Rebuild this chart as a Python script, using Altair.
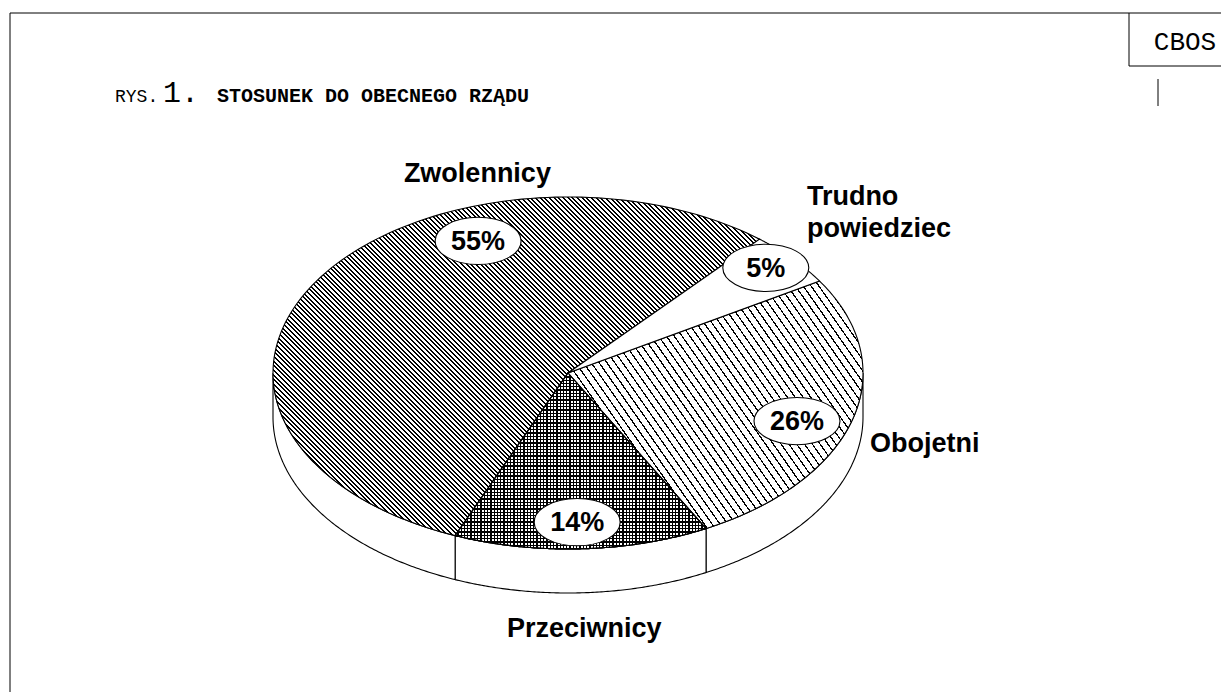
import math
import altair as alt
import pandas as pd

# ---------------- data ----------------
categories = ["Trudno powiedziec", "Obojetni", "Przeciwnicy", "Zwolennicy"]
values = [5, 26, 14, 55]
pct_labels = ["5%", "26%", "14%", "55%"]
outer_labels = ["Trudno\npowiedziec", "Obojetni", "Przeciwnicy", "Zwolennicy"]
title_prefix = "RYS."
title_number = "1."
title_text = "STOSUNEK DO OBECNEGO RZĄDU"
source_text = "CBOS"

# ---------------- style ----------------
W, H = 1213, 684
CX, CY, A, B = 560, 365, 295, 176      # pie centre / semi-axes (px, chart coords)
START_DEG = 40.5                        # where the first slice starts (clockwise from 12 o'clock)
DEPTH = 0.25                            # side depth, in y-scale units
K = 120                                 # arc resolution

PCT_POS = {"Trudno powiedziec": (48.3, 0.898), "Obojetni": (109.4, 0.823),
           "Przeciwnicy": (177.9, 0.848), "Zwolennicy": (337.9, 0.81)}
OUT_POS = {"Trudno powiedziec": (40.3, 1.252, "left"), "Obojetni": (113.7, 1.118, "left"),
           "Przeciwnicy": (177.9, 1.501, "center"), "Zwolennicy": (344.2, 1.128, "center")}

XS = alt.Scale(domain=[-1, 1], range=[CX - A, CX + A], nice=False, zero=False)
YS = alt.Scale(domain=[-1, 1], range=[CY + B, CY - B], nice=False, zero=False)

total = sum(values)


def slice_bbox(i):
    start = sum(values[:i])
    pts = [(CX, CY)]
    for k in range(K + 1):
        phi = math.radians(START_DEG + 360 * (start + values[i] * k / K) / total)
        pts.append((CX + A * math.sin(phi), CY - B * math.cos(phi)))
    xs = [p[0] for p in pts]
    ys = [p[1] for p in pts]
    return max(xs) - min(xs), max(ys) - min(ys)


def hatch(theta_deg, period, lw, w, h, ink="black", paper="white"):
    th = math.radians(theta_deg)
    n0, n1 = -math.sin(th), math.cos(th)
    corners = [(0, 0), (w, 0), (0, h), (w, h)]
    proj = [x * n0 + y * n1 for x, y in corners]
    pmin, pmax = min(proj), max(proj)
    L = pmax - pmin
    c = corners[proj.index(pmin)]
    u0, v0 = c[0] / w, c[1] / h
    g0, g1 = w * n0 / L, h * n1 / L
    g2 = g0 * g0 + g1 * g1
    d0, d1 = g0 / g2, g1 / g2
    q = period / L
    f = lw / period
    n = int(math.ceil(L / period))
    stops = []
    for i in range(n):
        a = min(1.0, i * q)
        b = min(1.0, (i + f) * q)
        e = min(1.0, (i + 1) * q)
        stops += [alt.GradientStop(offset=a, color=ink), alt.GradientStop(offset=b, color=ink),
                  alt.GradientStop(offset=b, color=paper), alt.GradientStop(offset=e, color=paper)]
    return alt.LinearGradient(gradient="linear", stops=stops,
                              x1=u0, y1=v0, x2=u0 + d0, y2=v0 + d1)


df = pd.DataFrame({
    "cat": categories,
    "value": values,
    "order": list(range(len(categories))),
})
df["steps_top"] = [list(range(-1, K + 1)) for _ in categories]
df["steps_side"] = [list(range(0, 2 * K + 2)) for _ in categories]


def base_slices():
    return (alt.Chart(df)
            .transform_window(cum="sum(value)", sort=[alt.SortField("order")], frame=[None, 0])
            .transform_joinaggregate(total="sum(value)"))


def top_slice(name, fill, stroke="black"):
    return (base_slices()
            .transform_filter(alt.datum.cat == name)
            .transform_flatten(["steps_top"], as_=["s"])
            .transform_calculate(
                phi=f"({START_DEG} + 360*((datum.cum - datum.value) + datum.value*max(datum.s,0)/{K})/datum.total)*PI/180")
            .transform_calculate(px="datum.s < 0 ? 0 : sin(datum.phi)")
            .transform_calculate(py="datum.s < 0 ? 0 : cos(datum.phi)")
            .mark_line(interpolate="linear-closed", fill=fill, stroke=stroke, strokeWidth=1.1)
            .encode(x=alt.X("px:Q", scale=XS, axis=None),
                    y=alt.Y("py:Q", scale=YS, axis=None),
                    order=alt.Order("s:Q")))


sides = (base_slices()
         .transform_calculate(a0=f"{START_DEG} + 360*(datum.cum - datum.value)/datum.total")
         .transform_calculate(a1=f"{START_DEG} + 360*datum.cum/datum.total")
         .transform_calculate(lo="max(datum.a0, 90)")
         .transform_calculate(hi="min(datum.a1, 270)")
         .transform_filter("datum.lo < datum.hi")
         .transform_flatten(["steps_side"], as_=["s"])
         .transform_calculate(t=f"datum.s <= {K} ? datum.s/{K} : ({2 * K + 1} - datum.s)/{K}")
         .transform_calculate(phi="(datum.lo + (datum.hi - datum.lo)*datum.t)*PI/180")
         .transform_calculate(px="sin(datum.phi)")
         .transform_calculate(py=f"cos(datum.phi) - (datum.s <= {K} ? 0 : {DEPTH})")
         .mark_line(interpolate="linear-closed", fill="white", stroke="black", strokeWidth=1.1)
         .encode(x=alt.X("px:Q", scale=XS, axis=None),
                 y=alt.Y("py:Q", scale=YS, axis=None),
                 detail="cat:N",
                 order=alt.Order("s:Q")))

bb = {c: slice_bbox(i) for i, c in enumerate(categories)}
wz, hz = bb["Zwolennicy"]
wo, ho = bb["Obojetni"]
wp, hp = bb["Przeciwnicy"]

zw = top_slice("Zwolennicy", hatch(45, 3.3, 1.4, wz, hz))
ob = top_slice("Obojetni", hatch(55, 6.4, 1.25, wo, ho))
pr1 = top_slice("Przeciwnicy", hatch(90, 3.3, 1.25, wp, hp))
pr2 = top_slice("Przeciwnicy", hatch(0, 3.3, 1.25, wp, hp, paper="rgba(0,0,0,0)"))
tr = top_slice("Trudno powiedziec", "white")

# ---- percentage callouts ----
lab = pd.DataFrame({"cat": categories, "pct": pct_labels, "outer": outer_labels})
lab["pa"] = [PCT_POS[c][0] for c in categories]
lab["pr"] = [PCT_POS[c][1] for c in categories]
lab["oa"] = [OUT_POS[c][0] for c in categories]
lab["orr"] = [OUT_POS[c][1] for c in categories]
lab["al"] = [OUT_POS[c][2] for c in categories]

pct_base = (alt.Chart(lab)
            .transform_calculate(px="datum.pr*sin(datum.pa*PI/180)")
            .transform_calculate(py="datum.pr*cos(datum.pa*PI/180)")
            .encode(x=alt.X("px:Q", scale=XS, axis=None), y=alt.Y("py:Q", scale=YS, axis=None)))

ELL = "M -1 0 A 1 0.55 0 1 1 1 0 A 1 0.55 0 1 1 -1 0 Z"
pct_ell = pct_base.mark_point(shape=ELL, size=86 * 86, filled=True, fill="white",
                              stroke="black", strokeWidth=1.1, opacity=1)
pct_txt = pct_base.mark_text(font="Liberation Sans", fontWeight="bold", fontSize=27,
                             align="center", baseline="middle", color="black", dy=1).encode(text="pct:N")


def outer(align):
    return (alt.Chart(lab)
            .transform_filter(alt.datum.al == align)
            .transform_calculate(px="datum.orr*sin(datum.oa*PI/180)")
            .transform_calculate(py="datum.orr*cos(datum.oa*PI/180)")
            .mark_text(font="Liberation Sans", fontWeight="bold", fontSize=27, align=align,
                       baseline="alphabetic", lineBreak="\n", lineHeight=32, color="black")
            .encode(x=alt.X("px:Q", scale=XS, axis=None), y=alt.Y("py:Q", scale=YS, axis=None),
                    text="outer:N"))


# ---- frame, header ----
one = pd.DataFrame({"d": [0]})


def rule(x, x2, y, y2):
    return alt.Chart(one).mark_rule(color="black", strokeWidth=1).encode(
        x=alt.value(x), x2=alt.value(x2), y=alt.value(y), y2=alt.value(y2))


def label(text, x, y, size, weight="normal", font="Liberation Mono", align="left"):
    return alt.Chart(pd.DataFrame({"t": [text]})).mark_text(
        font=font, fontSize=size, fontWeight=weight, align=align, baseline="alphabetic",
        color="black").encode(x=alt.value(x), y=alt.value(y), text="t:N")


frame = [
    rule(2, W, 5, 5),
    rule(2, 2, 5, H),
    rule(1121, 1121, 5, 58),
    rule(1121, W, 58, 58),
    rule(1150, 1150, 71, 98),
]
header = [
    label(title_prefix, 107, 94, 18),
    label(title_number, 155, 94, 30),
    label(title_text, 209, 94, 20, weight="bold"),
    label(source_text, 1177, 42, 26, align="center"),
]

chart = alt.layer(
    *frame, sides, zw, ob, pr1, pr2, tr, pct_ell, pct_txt, outer("left"), outer("center"), *header
).properties(
    width=W, height=H, autosize=alt.AutoSizeParams(type="none"), padding=0
).configure_view(strokeWidth=0)

chart.save("out.html", embed_options={"renderer": "svg", "actions": False})
